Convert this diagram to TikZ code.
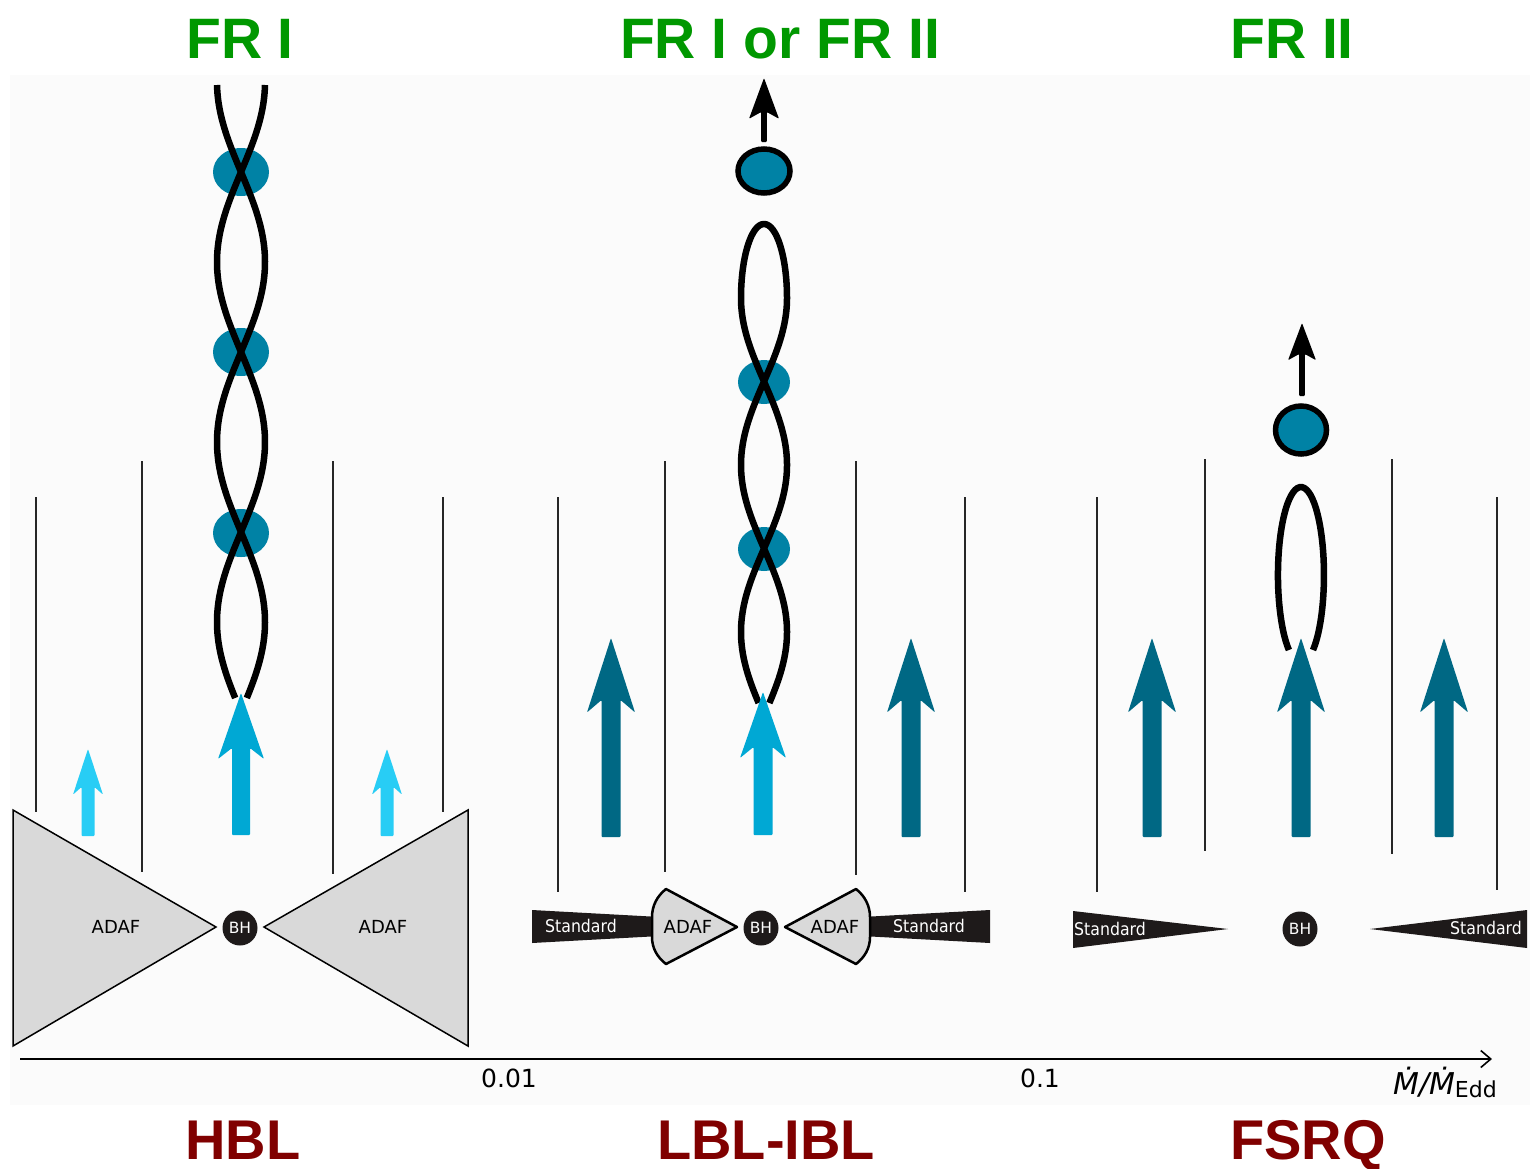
\documentclass[tikz,border=0pt]{standalone}
\usepackage{fontspec}
\setmainfont{DejaVu Sans}
\newfontfamily\headfont{Liberation Sans}
\usetikzlibrary{arrows.meta}

\definecolor{frgreen}{RGB}{0,152,0}
\definecolor{blazarred}{RGB}{128,0,0}
\definecolor{weakjet}{RGB}{40,205,245}
\definecolor{midjet}{RGB}{0,168,212}
\definecolor{strongjet}{RGB}{0,104,132}
\definecolor{knot}{RGB}{0,130,165}
\definecolor{adafgray}{RGB}{217,217,217}
\definecolor{diskblack}{RGB}{30,26,26}
\definecolor{panel}{RGB}{251,251,251}

% filled upward arrow: colour, x, bottom y, tip y, shaft half width, head half width, head length
\newcommand\fatarrow[7]{%
  \fill[#1, rounded corners=1pt] (#2-#5,#3) -- (#2-#5,#4+#7) -- (#2-#6,#4+1.2*#7)
    -- (#2,#4) -- (#2+#6,#4+1.2*#7) -- (#2+#5,#4+#7) -- (#2+#5,#3) -- cycle;}

\begin{document}
\begin{tikzpicture}[x=1pt,y=-1pt,
  title/.style={font=\headfont\bfseries\fontsize{57}{57}\selectfont, text=frgreen, anchor=base, inner sep=0},
  class/.style={font=\headfont\bfseries\fontsize{56}{56}\selectfont, text=blazarred, anchor=base, inner sep=0},
  wall/.style={line width=1.8pt, black!85},
  strand/.style={line width=6.5pt, black},
  bh/.style={circle, fill=diskblack, text=white, minimum size=35pt, inner sep=0,
    font=\fontsize{15.5}{15.5}\selectfont},
  disklabel/.style={inner sep=0, font=\fontsize{18}{18}\selectfont},
  stdlabel/.style={inner sep=0, text=white, font=\fontsize{17.5}{17.5}\selectfont},
  ticklabel/.style={inner sep=0, font=\fontsize{25}{25}\selectfont},
  adaf/.style={fill=adafgray, draw=black, line width=1.5pt, line join=miter},
  adafsmall/.style={fill=adafgray, draw=black, line width=2.5pt, line join=round},
]
\useasboundingbox (0,0) rectangle (1536,1168);
\fill[white] (0,0) rectangle (1536,1168);
\fill[panel] (10,75) rectangle (1530,1105);

% ---------- titles ----------
\node[title] (t1) at (240,58) {FR I};
\node[title] (t2) at (780,58) {FR I or FR II};
\node[title] (t3) at (1292,58) {FR II};
\node[class] (c1) at (243,1159) {HBL};
\node[class] (c2) at (766,1159) {LBL-IBL};
\node[class] (c3) at (1308,1159) {FSRQ};

% ---------- funnel walls ----------
\draw[wall] (36,497) -- (36,812);
\draw[wall] (142,461) -- (142,872);
\draw[wall] (333,461) -- (333,874);
\draw[wall] (443,497) -- (443,812);

\draw[wall] (558,497) -- (558,892);
\draw[wall] (665,461) -- (665,872);
\draw[wall] (856,461) -- (856,875);
\draw[wall] (965,497) -- (965,892);

\draw[wall] (1097,497) -- (1097,892);
\draw[wall] (1205,459) -- (1205,851);
\draw[wall] (1392,459) -- (1392,854);
\draw[wall] (1497,497) -- (1497,890);

% ---------- HBL: thick ADAF ----------
\draw[adaf] (13,810) -- (216,927) -- (13,1046) -- cycle;
\draw[adaf] (468,810) -- (264,927) -- (468,1046) -- cycle;
\node[disklabel] (adafA) at (116,927) {ADAF};
\node[disklabel] (adafB) at (383,927) {ADAF};
\node[bh] (bh1) at (240,928) {BH};

% ---------- LBL-IBL: standard disc + inner ADAF ----------
\fill[diskblack] (532,910) -- (660,917) -- (660,936) -- (532,943) -- cycle;
\fill[diskblack] (990,910) -- (862,917) -- (862,936) -- (990,943) -- cycle;
\draw[adafsmall] (737,927) -- (666,889) .. controls (657,896) and (652,906) .. (652,917)
  -- (652,937) .. controls (652,948) and (657,957) .. (666,964) -- cycle;
\draw[adafsmall] (785,927) -- (856,889) .. controls (865,896) and (870,906) .. (870,917)
  -- (870,937) .. controls (870,948) and (865,957) .. (856,964) -- cycle;
\node[stdlabel] (stdA) at (581,926) {\scalebox{0.9}[1]{Standard}};
\node[stdlabel] (stdB) at (929,926) {\scalebox{0.9}[1]{Standard}};
\node[disklabel] (adafC) at (688,927) {ADAF};
\node[disklabel] (adafD) at (835,927) {ADAF};
\node[bh] (bh2) at (761,928) {BH};

% ---------- FSRQ: standard disc ----------
\fill[diskblack] (1073,911) -- (1228,929) -- (1073,948) -- cycle;
\fill[diskblack] (1527,910) -- (1370,929) -- (1527,948) -- cycle;
\node[stdlabel] (stdC) at (1110,929) {\scalebox{0.9}[1]{Standard}};
\node[stdlabel] (stdD) at (1486,928) {\scalebox{0.9}[1]{Standard}};
\node[bh] (bh3) at (1300,929) {BH};

% ---------- HBL jet ----------
\foreach \yy in {172,352,533} \fill[knot] (241,\yy) ellipse[x radius=28, y radius=24];
\draw[strand] plot[domain=85:698, samples=220, variable=\t] ({241+24*cos(\t-82)},\t);
\draw[strand] plot[domain=85:698, samples=220, variable=\t] ({241-24*cos(\t-82)},\t);

% ---------- LBL-IBL jet ----------
\foreach \yy in {382,549} \fill[knot] (764,\yy) ellipse[x radius=26, y radius=22];
\draw[strand, line join=round]
  plot[domain=703:298, samples=160, variable=\t] ({764+23*cos((\t-298)*1.0778)},\t)
  arc[start angle=0, end angle=-180, x radius=23, y radius=74]
  -- plot[domain=298:703, samples=160, variable=\t] ({764-23*cos((\t-298)*1.0778)},\t);
\filldraw[knot, draw=black, line width=5.5pt] (764,171) ellipse[x radius=26, y radius=22];
\fatarrow{black}{764}{142}{78}{2.8}{15}{34}

% ---------- FSRQ jet ----------
\draw[strand] (1313,650) arc[start angle=58.4, end angle=-238.4, x radius=23, y radius=88];
\filldraw[knot, draw=black, line width=5.5pt] (1301,430) ellipse[x radius=25.5, y radius=24];
\fatarrow{black}{1302}{396}{323}{2.8}{14}{31}

% ---------- energy flow arrows ----------
\fatarrow{weakjet}{88}{836}{749}{6.5}{15}{38}
\fatarrow{weakjet}{387}{836}{749}{6.5}{15}{38}
\fatarrow{midjet}{241}{835}{693}{9}{23}{55}
\fatarrow{midjet}{763}{835}{692}{9.5}{23}{55}
\fatarrow{strongjet}{611}{837}{638}{9.5}{24}{62}
\fatarrow{strongjet}{911}{837}{638}{9.5}{24}{62}
\fatarrow{strongjet}{1152}{837}{638}{9.5}{24}{62}
\fatarrow{strongjet}{1301}{837}{638}{9.5}{24}{62}
\fatarrow{strongjet}{1444}{837}{638}{9.5}{24}{62}

% ---------- accretion-rate axis ----------
\coordinate (ax0) at (20,1059);
\coordinate (ax1) at (1492,1059);
\draw[line width=1.6pt, -{Straight Barb[length=10pt, width=17pt]}] (ax0) -- (ax1);
\node[ticklabel] (tk1) at (509,1078) {0.01};
\node[ticklabel] (tk2) at (1040,1078) {0.1};
\node[inner sep=0, anchor=base east] (axlab) at (1497,1094)
  {{\fontsize{30}{30}\selectfont\itshape Ṁ/Ṁ}\raisebox{-3pt}{\fontsize{22}{22}\selectfont Edd}};
\end{tikzpicture}
\end{document}
